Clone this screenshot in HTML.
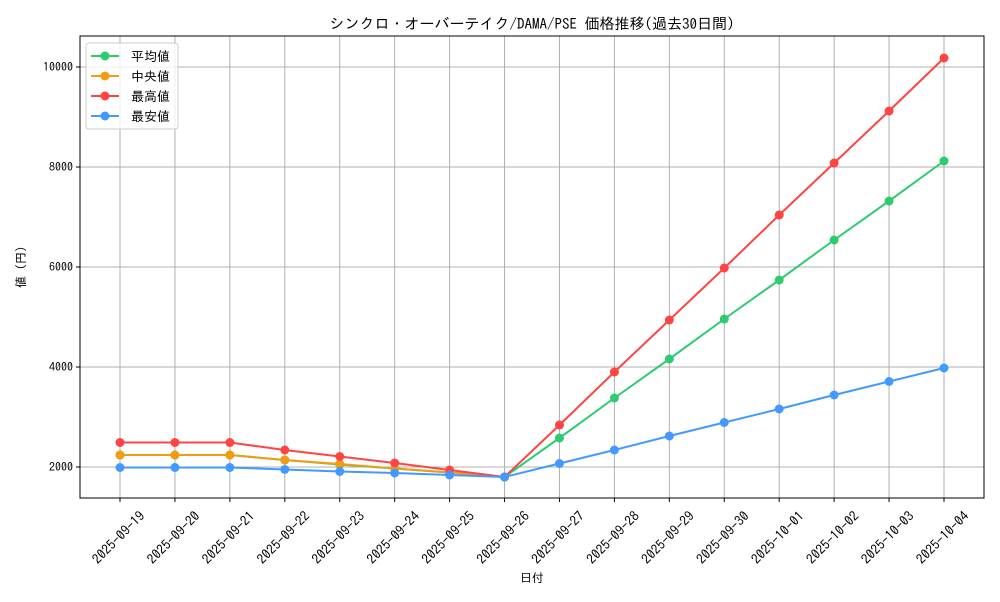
<!DOCTYPE html>
<html><head><meta charset="utf-8"><style>
body{margin:0;background:#fff;font-family:"IPAGothic","Liberation Sans",sans-serif}
</style></head><body>
<svg id="chart" width="1000" height="600" xmlns="http://www.w3.org/2000/svg" style="font-family:'IPAGothic','Liberation Sans',sans-serif">
<text x="532" y="29" font-size="15" text-anchor="middle">シンクロ・オーバーテイク/DAMA/PSE 価格推移(過去30日間)</text>
<g id="grid"></g><g id="axes"></g><g id="series"></g>
<text x="532" y="582" font-size="12" text-anchor="middle">日付</text>
<text x="25" y="267" font-size="12" text-anchor="middle" transform="rotate(-90 25 267)">値 (円)</text>
<g id="legend"></g>
</svg>
<script>
const dates=["2025-09-19","2025-09-20","2025-09-21","2025-09-22","2025-09-23","2025-09-24","2025-09-25","2025-09-26","2025-09-27","2025-09-28","2025-09-29","2025-09-30","2025-10-01","2025-10-02","2025-10-03","2025-10-04"];
const avgVals=[2240,2240,2240,2140,2050,1970,1890,1800,2580,3380,4160,4960,5740,6540,7320,8120];
const medVals=[2240,2240,2240,2140,2060,1970,1890,1800];
const maxVals=[2490,2490,2490,2340,2210,2080,1940,1800,2840,3900,4940,5980,7040,8080,9120,10180];
const minVals=[1990,1990,1990,1950,1910,1880,1840,1800,2070,2340,2620,2890,3160,3440,3710,3980];
const yTicks=[2000,4000,6000,8000,10000];
const NS="http://www.w3.org/2000/svg";
const L=80,R=984,T=36,B=498;
const x=i=>120+i*(944-120)/(dates.length-1);
const y=v=>467-(v-2000)*0.05;
function mk(tag,attrs,parent){const e=document.createElementNS(NS,tag);for(const k in attrs)e.setAttribute(k,attrs[k]);parent.appendChild(e);return e;}
const grid=document.getElementById('grid'),axes=document.getElementById('axes'),ser=document.getElementById('series'),leg=document.getElementById('legend');
dates.forEach((d,i)=>{
 const g=mk('line',{x1:x(i),x2:x(i),y1:T,y2:B,stroke:'#b0b0b0','stroke-width':1},grid);
 
 
 mk('line',{x1:x(i),x2:x(i),y1:B,y2:B+4,stroke:'#000'},axes);
 const cx=x(i)-1,cy=B+40;
 const t=mk('text',{x:cx,y:cy+4,'font-size':13.5,'text-anchor':'middle',transform:`rotate(-45 ${cx} ${cy})`},axes);
 t.textContent=d;
 
 
});
yTicks.forEach(v=>{
 const g=mk('line',{x1:L,x2:R,y1:y(v),y2:y(v),stroke:'#b0b0b0','stroke-width':1},grid);
 
 
 mk('line',{x1:L-4,x2:L,y1:y(v),y2:y(v),stroke:'#000'},axes);
 const t=mk('text',{x:L-7,y:y(v)+4,'font-size':12,'text-anchor':'end'},axes);
 t.textContent=v;
 
 
});
const frame=mk('rect',{x:L,y:T,width:R-L,height:B-T,fill:'none',stroke:'#000','stroke-width':1},axes);


const series=[["平均値",avgVals,"#2ecc71"],["中央値",medVals,"#f39c12"],["最高値",maxVals,"#ff4444"],["最安値",minVals,"#4499ff"]];
series.forEach(([name,vals,c],si)=>{
 const g=mk('g',{},ser);
 
 
 const p=mk('polyline',{points:vals.map((v,i)=>x(i)+','+y(v)).join(' '),fill:'none',stroke:c,'stroke-width':2},g);
 
 
 vals.forEach((v,i)=>{
  const m=mk('circle',{cx:x(i),cy:y(v),r:4.5,fill:c},g);
  
  
 });
});
const box=mk('rect',{x:86,y:43,width:92,height:86,rx:3,fill:'#fff','fill-opacity':0.8,stroke:'#ccc'},leg);


series.forEach(([name,vals,c],i)=>{
 const yy=56+i*20;
 const g=mk('g',{},leg);
 
 
 mk('line',{x1:91,x2:119,y1:yy,y2:yy,stroke:c,'stroke-width':2},g);
 mk('circle',{cx:105,cy:yy,r:4.5,fill:c},g);
 const t=mk('text',{x:131,y:yy+5,'font-size':13},g);
 t.textContent=name;
});
</script>
</body></html>
